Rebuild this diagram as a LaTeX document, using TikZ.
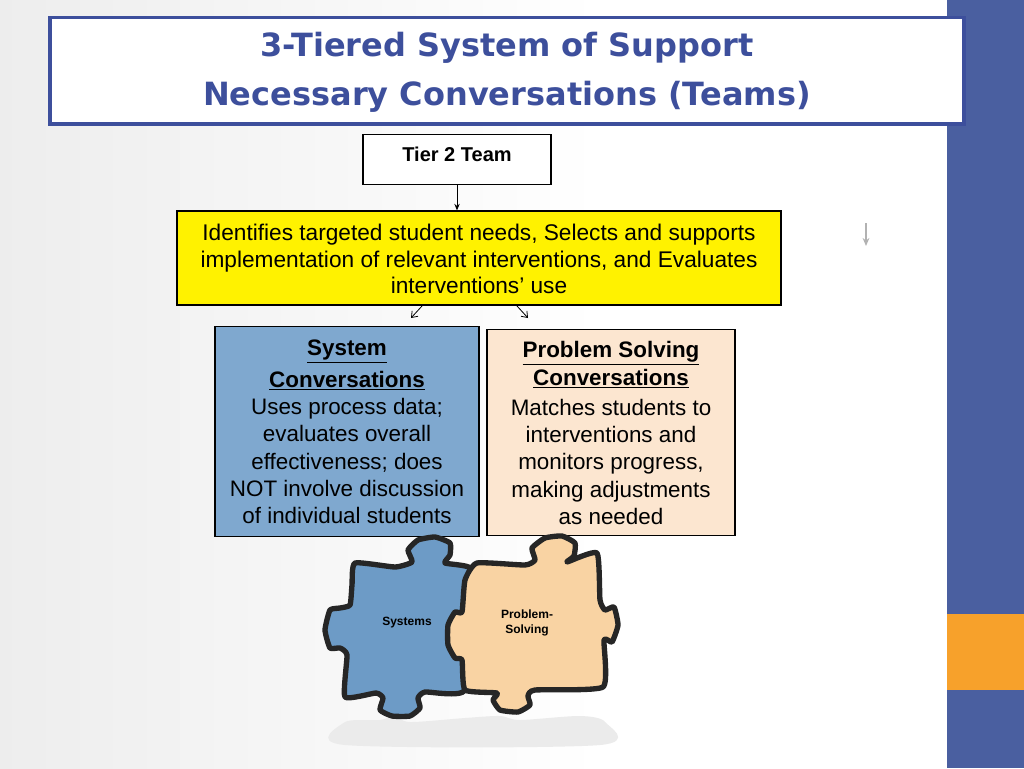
\documentclass[tikz,border=0pt]{standalone}
\usepackage{fontspec}
\setmainfont{Liberation Sans}
\newfontfamily\titlefont{DejaVu Sans}
\usetikzlibrary{arrows.meta}
\definecolor{barblue}{HTML}{4A5FA0}
\definecolor{barorange}{HTML}{F7A12B}
\definecolor{titleblue}{HTML}{3D4F9C}
\definecolor{boxblue}{HTML}{7FA8CF}
\definecolor{boxpeach}{HTML}{FCE6D0}
\definecolor{pzblue}{HTML}{6D9BC6}
\definecolor{pzpeach}{HTML}{F9D3A3}
\tikzset{
  box/.style={draw=black, line width=0.8pt, inner sep=0pt},
  txt/.style={font=\fontsize{17}{20}\selectfont, align=center, inner sep=0pt},
  arr/.style={-{Stealth[length=5pt,width=4pt]}, line width=0.7pt},
  varr/.style={-{Straight Barb[length=4pt,width=6pt]}, line width=0.6pt},
  piece/.style={line width=4pt, line join=round, draw=black!85},
}
\begin{document}
\begin{tikzpicture}[x=0.75pt,y=-0.75pt]
\useasboundingbox (0,0) rectangle (1024,768);
\shade[left color=black!7, right color=white] (0,0) rectangle (600,768);
\fill[white] (600,0) rectangle (947,768);
\fill[barblue] (947,0) rectangle (1024,768);
\fill[barorange] (947,614) rectangle (1024,690);
% title
\node[draw=titleblue, line width=2.5pt, fill=white, minimum width=685.5pt, minimum height=80pt, inner sep=0pt] (title) at (507,70.5) {};
\node[font=\titlefont\bfseries\fontsize{24}{37}\selectfont, text=titleblue, align=center] (tt) at (507,72) {3-Tiered System of Support\\Necessary Conversations (Teams)};
% tier 2
\node[box, fill=white, minimum width=141pt, minimum height=38pt] (t2) at (457,159.5) {};
\node[txt, font=\bfseries\fontsize{15}{18}\selectfont] (t2t) at (457,154) {Tier 2 Team};
% yellow
\node[box, fill=yellow, minimum width=453pt, minimum height=70.5pt] (y) at (479,258) {};
\node[txt] (yt) at (479,259) {Identifies targeted student needs, Selects and supports\\implementation of relevant interventions, and Evaluates\\interventions’ use};
\draw[arr] (t2.south) -- (t2.south |- y.north);
\coordinate (a1) at (422,306); \coordinate (a1e) at (411,318);
\coordinate (a2) at (517,306); \coordinate (a2e) at (528,318);
\draw[varr] (a1) -- (a1e);
\draw[varr] (a2) -- (a2e);
\coordinate (g1) at (866,223); \coordinate (g2) at (866,246);
\draw[-{Stealth[length=6pt,width=5pt]}, black!30, line width=1.2pt] (g1) -- (g2);
% blue box
\node[box, fill=boxblue, minimum width=198pt, minimum height=158pt] (sb) at (347,431.5) {};
\node[txt, font=\fontsize{16.8}{20.5}\selectfont] (sbt) at (347,432) {\textbf{\underline{System}}\\[3pt]\textbf{\underline{Conversations}}\\Uses process data;\\evaluates overall\\effectiveness; does\\NOT involve discussion\\of individual students};
% peach box
\node[box, fill=boxpeach, minimum width=186pt, minimum height=155pt] (pb) at (611,432.5) {};
\node[txt, font=\fontsize{16.8}{20.5}\selectfont] (pbt) at (611,433) {\textbf{\underline{Problem Solving}}\\\textbf{\underline{Conversations}}\\[2pt]Matches students to\\interventions and\\monitors progress,\\making adjustments\\as needed};
% reflections
\fill[black!8] plot[smooth cycle, tension=0.5] coordinates {(345,722) (380,720) (395,716) (410,722) (465,718) (500,716) (520,720) (580,716) (605,722) (600,745) (345,745)};
% puzzle pieces
\draw[piece, fill=pzblue] plot[smooth cycle, tension=0.3] coordinates {(355,563) (395,567) (412,562) (408,550) (418,540) (435,537) (450,543) (450,555) (445,563) (470,568) (468,600) (465,690) (425,692) (418,698) (420,708) (410,716) (392,716) (380,710) (383,698) (376,693) (345,697) (347,655) (340,648) (330,648) (325,630) (330,610) (340,608) (350,605) (352,585)};
\draw[piece, fill=pzpeach] plot[smooth cycle, tension=0.3] coordinates {(477,563) (525,565) (535,560) (532,548) (545,538) (562,536) (575,543) (574,556) (567,562) (597,553) (600,600) (605,610) (614,607) (618,625) (612,642) (604,640) (603,687) (535,690) (528,696) (530,705) (518,712) (500,710) (493,700) (497,693) (465,690) (462,660) (455,658) (448,645) (448,625) (455,612) (462,612) (465,580)};
\node[font=\bfseries\fontsize{9}{11}\selectfont] (ps) at (407,623) {Systems};
\node[font=\bfseries\fontsize{9}{11}\selectfont, align=center] (pp) at (527,623) {Problem-\\Solving};
\end{tikzpicture}
\end{document}
